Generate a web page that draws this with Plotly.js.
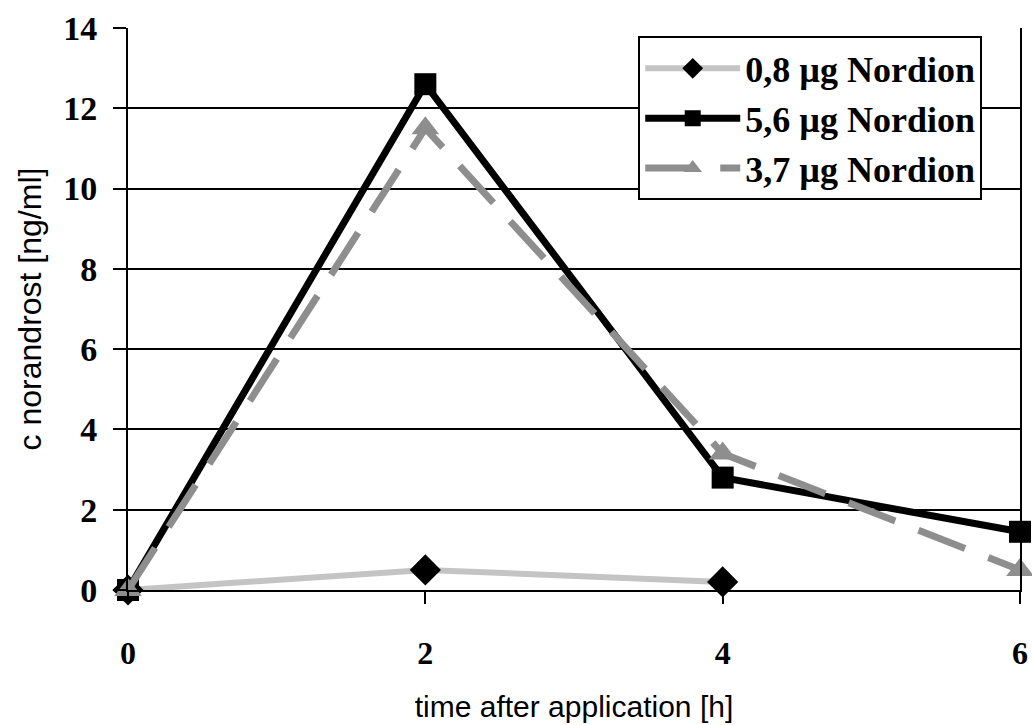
<!DOCTYPE html>
<html>
<head>
<meta charset="utf-8">
<script src="https://cdn.plot.ly/plotly-3.0.1.min.js"></script>
<style>html,body{margin:0;padding:0;background:#fff;}#chart{width:1032px;height:725px;}</style>
</head>
<body>
<div id="chart"></div>
<script>
// Data
const timeH = [0, 2, 4, 6];
const names = ["0,8 µg Nordion", "5,6 µg Nordion", "3,7 µg Nordion"];
const x08 = [0, 2, 4];
const y08 = [0, 0.5, 0.2];
const y56 = [0, 12.6, 2.8, 1.45];
const y37 = [0, 11.5, 3.4, 0.5];
const yTicks = [0, 2, 4, 6, 8, 10, 12, 14];
const xTicks = [0, 2, 4, 6];

const serif = "Liberation Serif, Times New Roman, serif";
const sans = "Liberation Sans, Arial, sans-serif";

const traces = [
  {
    x: x08, y: y08, name: names[0], legendgroup: "a", mode: "lines+markers", cliponaxis: false,
    line: {color: "#c4c4c4", width: 6},
    marker: {symbol: "diamond", size: 24, color: "#000"}
  },
  {
    x: timeH, y: y56, name: names[1], legendgroup: "b", mode: "lines+markers", cliponaxis: false,
    line: {color: "#000", width: 7},
    marker: {symbol: "square", size: 22, color: "#000"}
  },
  {
    x: timeH, y: y37, name: names[2], legendgroup: "c", mode: "lines+markers", cliponaxis: false,
    line: {color: "#8e8e8e", width: 7, dash: "50px,25px"},
    marker: {symbol: "triangle-up", size: 24, color: "#8e8e8e"}
  }
];

const layout = {
  width: 1032, height: 725,
  margin: {l: 128, r: 12, t: 28, b: 135},
  paper_bgcolor: "#fff", plot_bgcolor: "#fff",
  showlegend: true,
  legend: {
    x: 0.572, y: 0.985, xanchor: "left", yanchor: "top",
    bgcolor: "#fff", bordercolor: "#000", borderwidth: 2,
    font: {family: serif, size: 36, color: "#000", weight: "bold"},
    itemwidth: 95, tracegroupgap: 12,
    traceorder: "normal"
  },
  xaxis: {
    range: [0, 6], tickvals: xTicks, ticktext: xTicks.map(String),
    showgrid: false, zeroline: false,
    showline: true, linecolor: "#000", linewidth: 2,
    ticks: "outside", ticklen: 12, tickwidth: 2, tickcolor: "#000",
    ticklabelstandoff: 22,
    tickfont: {family: serif, size: 32, color: "#000", weight: "bold"},
    title: {text: "time after application [h]", font: {family: sans, size: 30, color: "#000"}, standoff: 26}
  },
  yaxis: {
    range: [0, 14], tickvals: yTicks, ticktext: yTicks.map(String),
    showgrid: true, gridcolor: "#000", gridwidth: 2, zeroline: false,
    showline: true, linecolor: "#000", linewidth: 2, mirror: true,
    ticks: "outside", ticklen: 13, tickwidth: 2, tickcolor: "#000",
    ticklabelstandoff: 9,
    tickfont: {family: serif, size: 34, color: "#000", weight: "bold"},
    title: {text: "c norandrost [ng/ml]", font: {family: sans, size: 32, color: "#000"}, standoff: 12}
  }
};

Plotly.newPlot("chart", traces, layout, {displayModeBar: false, staticPlot: true});
</script>
</body>
</html>
